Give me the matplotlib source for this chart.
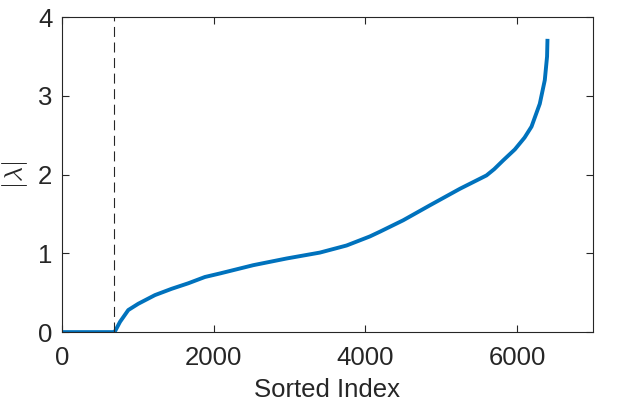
import matplotlib
matplotlib.use("Agg")
import matplotlib.pyplot as plt

# valores (índice ordenado, |lambda|)
indice = [1, 690, 699, 765, 874, 1006, 1226, 1446, 1665, 1885, 2083, 2522,
          2962, 3401, 3753, 4060, 4192, 4499, 4851, 5247, 5598, 5700, 5817,
          5972, 6100, 6192, 6301, 6367, 6397, 6402]
lam = [0.0, 0.0, 0.01, 0.13, 0.28, 0.36, 0.47, 0.55, 0.62, 0.70, 0.745, 0.85,
       0.935, 1.01, 1.10, 1.215, 1.275, 1.42, 1.61, 1.82, 1.99, 2.07, 2.18,
       2.32, 2.47, 2.61, 2.90, 3.20, 3.50, 3.70]
corte = 690

x_ticks = [0, 2000, 4000, 6000]
y_ticks = [0, 1, 2, 3, 4]

plt.rcParams['font.family'] = ['Liberation Sans', 'DejaVu Sans']
plt.rcParams['mathtext.fontset'] = 'cm'

fig = plt.figure(figsize=(6.23, 4.09), dpi=100)
ax = fig.add_axes([0.0995, 0.188, 0.852, 0.770])

ax.plot(indice, lam, color='#0072BD', linewidth=2.8, solid_joinstyle='round')
ax.axvline(corte, color='#262626', linestyle=(0, (9, 5)), linewidth=0.8)

ax.set_xlim(0, 7000)
ax.set_ylim(0, 4)
ax.set_xticks(x_ticks)
ax.set_yticks(y_ticks)

ax.tick_params(direction='in', top=True, right=True, length=5, width=0.8,
               labelsize=18.5, colors='#262626', pad=7)
ax.tick_params(axis='x', pad=10)
for s in ax.spines.values():
    s.set_color('#262626')
    s.set_linewidth(0.8)

ax.set_xlabel('Sorted Index', fontsize=18.5, color='#262626', labelpad=6)
ax.set_ylabel(r'$|\lambda|$', fontsize=18.5, color='#262626', labelpad=6)

plt.savefig('out.png', dpi=100)
plt.close()
